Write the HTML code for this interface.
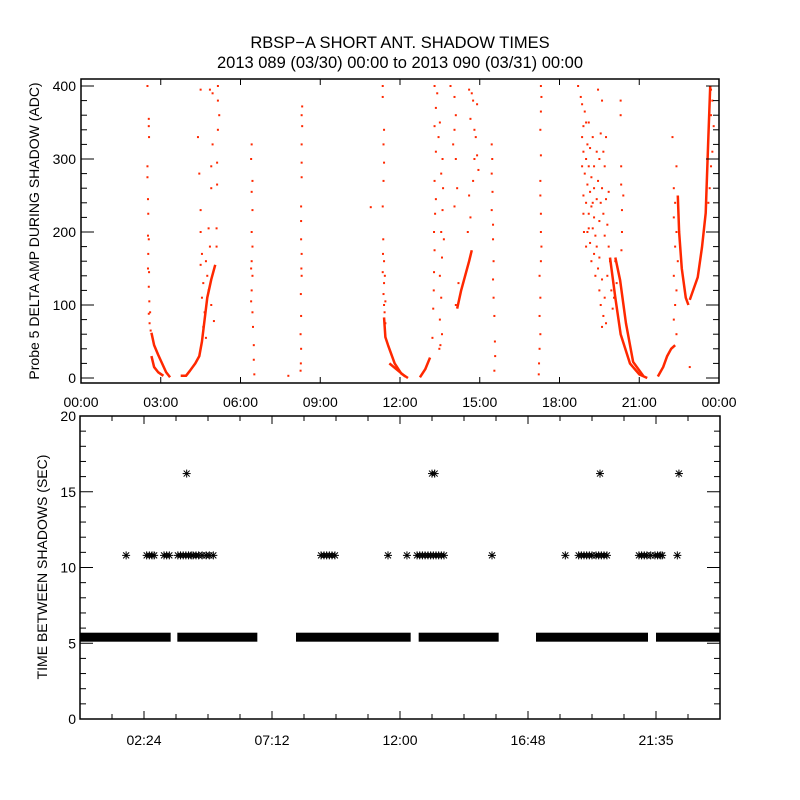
<!DOCTYPE html>
<html><head><meta charset="utf-8"><style>
html,body{margin:0;padding:0;background:#fff;}
svg{display:block;font-family:"Liberation Sans",sans-serif;}
</style></head><body>
<svg id="chart" width="800" height="800" viewBox="0 0 800 800">
<rect width="800" height="800" fill="#fff"/>
<text x="400" y="48" font-size="16.5" text-anchor="middle">RBSP−A SHORT ANT. SHADOW TIMES</text>
<text x="400" y="68" font-size="16.5" text-anchor="middle">2013 089 (03/30) 00:00 to 2013 090 (03/31) 00:00</text>
<g id="topPanel"></g>
<g id="botPanel"></g>
<text transform="translate(39,231) rotate(-90)" font-size="14" text-anchor="middle">Probe 5 DELTA AMP DURING SHADOW (ADC)</text>
<text transform="translate(47,567) rotate(-90)" font-size="14" text-anchor="middle">TIME BETWEEN SHADOWS (SEC)</text>
</svg>
<script>
// ---- top panel data ----
const topXTicks = [0,3,6,9,12,15,18,21,24];
const topXLabels = ["00:00","03:00","06:00","09:00","12:00","15:00","18:00","21:00","00:00"];
const topYTicks = [0,100,200,300,400];
const strands = [
 [[2.65,62],[2.75,45],[2.9,32],[3.05,20],[3.2,8],[3.35,1]],
 [[2.65,30],[2.75,15],[2.9,8],[3.1,3]],
 [[3.75,3],[3.95,3],[4.1,10],[4.3,20],[4.45,30],[4.55,50],[4.65,80],[4.75,110],[4.9,135],[5.05,155]],
 [[11.4,83],[11.45,56],[11.55,45],[11.8,20],[12.05,6],[12.3,0]],
 [[11.6,20],[12.0,8],[12.2,2]],
 [[12.75,1],[12.95,12],[13.13,28]],
 [[14.15,95],[14.3,120],[14.45,140],[14.6,160],[14.7,175]],
 [[19.9,165],[20.1,110],[20.3,60],[20.65,20],[21.0,5],[21.3,0]],
 [[20.1,165],[20.28,134],[20.5,75],[20.77,22],[21.15,3]],
 [[21.7,2],[21.9,15],[22.05,30],[22.2,40],[22.35,45]],
 [[22.45,250],[22.5,200],[22.6,150],[22.75,110],[22.85,100]],
 [[22.9,107],[23.2,138],[23.36,179],[23.5,226],[23.6,330],[23.67,400]]
];
const scatterPts = [
 [2.5,400],[2.55,355],[2.55,345],[2.56,330],[2.5,290],[2.5,275],[2.52,245],[2.53,225],[2.52,195],[2.55,190],[2.53,170],[2.52,150],[2.56,145],[2.55,125],[2.57,105],[2.55,88],[2.6,90],[2.58,75],[2.62,65],
 [4.4,330],[4.45,280],[4.5,230],[4.5,200],[4.55,170],[4.5,155],[4.6,130],[4.55,110],[4.65,90],[4.6,70],[4.7,160],[4.8,205],[4.85,180],[4.9,260],[4.9,290],[4.95,320],[4.85,395],[4.95,390],[4.5,395],[5.15,400],[5.15,380],[5.2,360],[5.15,340],[5.12,295],[5.12,265],[5.1,205],[5.1,180],[4.75,140],[4.8,120],[4.9,100],[5.0,78],[4.7,55],
 [6.42,320],[6.4,300],[6.45,270],[6.42,255],[6.45,230],[6.42,200],[6.45,180],[6.42,160],[6.4,150],[6.45,140],[6.42,120],[6.4,105],[6.45,90],[6.47,70],[6.5,45],[6.5,25],[6.52,5],[7.8,3],
 [8.32,372],[8.3,360],[8.32,345],[8.3,320],[8.3,295],[8.3,275],[8.28,235],[8.28,215],[8.28,190],[8.3,170],[8.29,150],[8.3,140],[8.27,115],[8.28,85],[8.26,60],[8.28,40],[8.27,20],[8.26,10],[10.9,234],
 [11.35,400],[11.35,385],[11.4,340],[11.38,320],[11.4,295],[11.38,270],[11.35,235],[11.37,190],[11.36,170],[11.4,160],[11.35,145],[11.4,130],[11.38,115],[11.4,100],[11.42,90],[11.45,75],[11.45,105],[11.43,140],
 [13.3,400],[13.35,370],[13.3,345],[13.35,310],[13.3,270],[13.35,245],[13.32,225],[13.28,200],[13.3,175],[13.28,145],[13.27,120],[13.25,95],[13.22,55],[13.6,300],[13.55,280],[13.62,260],[13.6,230],[13.55,200],[13.65,190],[13.58,165],[13.5,140],[13.55,110],[13.5,80],[13.58,60],[13.52,45],[13.48,40],[13.4,390],[13.5,350],[13.45,330],
 [13.9,400],[14.05,385],[14.1,360],[14.05,340],[14.0,320],[14.1,300],[14.15,260],[14.05,235],[14.2,130],[14.1,100],[14.6,395],[14.7,390],[14.75,380],[14.65,355],[14.8,340],[14.85,330],[14.8,300],[14.75,270],[14.6,250],[14.65,220],[14.55,200],[14.9,375],[14.9,305],[14.95,285],
 [15.45,320],[15.47,300],[15.45,280],[15.48,255],[15.45,230],[15.5,210],[15.5,190],[15.52,160],[15.5,135],[15.52,110],[15.55,85],[15.57,50],[15.58,30],[15.55,10],
 [17.3,400],[17.32,385],[17.3,365],[17.28,340],[17.3,305],[17.28,270],[17.28,250],[17.3,225],[17.3,200],[17.32,180],[17.3,160],[17.25,140],[17.28,110],[17.25,85],[17.28,60],[17.25,40],[17.23,20],[17.22,5],
 [18.7,400],[18.8,385],[18.85,375],[18.95,365],[18.9,345],[19.0,350],[18.85,330],[19.05,320],[18.9,310],[19.0,300],[19.1,290],[18.95,280],[19.2,275],[19.05,265],[19.15,255],[19.3,260],[18.9,250],[19.0,240],[19.2,235],[19.1,225],[19.3,220],[19.25,205],[19.05,200],[19.35,195],[19.15,185],[19.4,180],[19.3,170],[19.5,165],[19.2,160],[19.45,150],[19.35,140],[19.6,135],[19.5,120],[19.7,110],[19.55,100],[19.65,85],[19.75,75],[19.6,70],[19.45,395],[19.6,380],[19.55,335],[19.65,310],[19.5,300],[19.7,290],[19.6,260],[19.75,245],[19.65,225],[19.8,210],[19.7,195],[19.85,180],[19.9,160],[19.8,140],[19.95,120],[20.05,110],[20.1,160],[20.15,130],[20.0,95],[20.3,380],[20.3,360],[20.32,290],[20.32,265],[20.35,230],[20.35,200],[20.33,175],[18.85,290],[18.9,225],[18.92,200],[19.0,180],[19.1,350],[19.25,330],[19.15,315],[19.4,310],[19.3,290],[19.45,270],[19.4,245],[19.55,240],[19.5,215],[19.25,240],[19.1,205],[19.75,330],[19.85,255],[20.4,250],
 [22.3,260],[22.35,240],[22.3,220],[22.4,200],[22.35,180],[22.45,160],[22.3,140],[22.4,120],[22.35,100],[22.3,80],[22.4,60],[22.25,330],[22.9,15],[22.4,290],
 [23.7,395],[23.75,380],[23.7,360],[23.8,345],[23.75,310],[23.7,290],[23.65,260],[23.6,240]
];
// ---- bottom panel data ----
const botXTicks = [2.4,7.2,12,16.8,21.6];
const botXLabels = ["02:24","07:12","12:00","16:48","21:35"];
const botYTicks = [0,5,10,15,20];
const baseSegments = [[0,3.4],[3.65,6.65],[8.1,12.4],[12.7,15.7],[17.1,21.3],[21.6,24]];
const baseValue = 5.4;
const stars108 = [1.73,2.5,2.6,2.7,2.78,3.15,3.25,3.35,3.67,3.77,3.87,3.97,4.07,4.17,4.24,4.35,4.45,4.58,4.73,4.85,5.0,9.04,9.15,9.25,9.35,9.45,9.56,11.55,12.26,12.64,12.74,12.84,12.94,13.05,13.15,13.25,13.35,13.45,13.55,13.65,15.45,18.2,18.7,18.8,18.9,19.0,19.1,19.2,19.35,19.45,19.55,19.65,19.76,20.96,21.06,21.16,21.26,21.4,21.56,21.66,21.76,21.83,22.4];
const stars162 = [4.0,13.2,13.3,19.5,22.46];

const NS="http://www.w3.org/2000/svg";
function mk(parent,tag,attrs){const e=document.createElementNS(NS,tag);for(const k in attrs)e.setAttribute(k,attrs[k]);parent.appendChild(e);return e;}
const L=81,R=719;
const tx=h=>L+h*(R-L)/24;
const ty=v=>378-v*0.73;
const bx=h=>80+h*640/24;
const by=v=>719-v*15.15;
const RED="#ff2800";

const topG=document.getElementById('topPanel');
strands.forEach(s=>{
 const p=mk(topG,'polyline',{points:s.map(d=>tx(d[0])+','+ty(d[1])).join(' '),fill:'none',stroke:RED,'stroke-width':2.5,'stroke-linejoin':'round'});
 
 
});
scatterPts.forEach(d=>{
 const r=mk(topG,'rect',{x:tx(d[0])-1,y:ty(d[1])-1,width:2,height:2,fill:RED});
 
 
});
const tf=mk(topG,'rect',{x:L,y:79,width:R-L,height:304,fill:'none',stroke:'#000','stroke-width':1.5});


topXTicks.forEach((h,i)=>{
 mk(topG,'line',{x1:tx(h),x2:tx(h),y1:383,y2:377,stroke:'#000'});
 mk(topG,'line',{x1:tx(h),x2:tx(h),y1:79,y2:85,stroke:'#000'});
 const t=mk(topG,'text',{x:tx(h),y:407,'font-size':14,'text-anchor':'middle'});
 t.textContent=topXLabels[i];
 
 
});
for(let v=0;v<=400;v+=20){
 const len=(v%100===0)?13:6;
 mk(topG,'line',{x1:L,x2:L+len,y1:ty(v),y2:ty(v),stroke:'#000'});
 mk(topG,'line',{x1:R,x2:R-len,y1:ty(v),y2:ty(v),stroke:'#000'});
}
topYTicks.forEach(v=>{
 const t=mk(topG,'text',{x:76,y:ty(v)+5,'font-size':14,'text-anchor':'end'});
 t.textContent=v;
 
 
});

const botG=document.getElementById('botPanel');
baseSegments.forEach(s=>{
 const r=mk(botG,'rect',{x:bx(s[0]),y:by(baseValue)-4.5,width:bx(s[1])-bx(s[0]),height:9,fill:'#000'});
 
 
});
function star(h,v){
 const x=bx(h),y=by(v),g=mk(botG,'g',{stroke:'#000','stroke-width':1});
 
 
 mk(g,'line',{x1:x-4,x2:x+4,y1:y,y2:y});
 mk(g,'line',{x1:x,x2:x,y1:y-4,y2:y+4});
 mk(g,'line',{x1:x-3,x2:x+3,y1:y-3,y2:y+3});
 mk(g,'line',{x1:x-3,x2:x+3,y1:y+3,y2:y-3});
}
stars108.forEach(h=>star(h,10.8));
stars162.forEach(h=>star(h,16.2));
const bf=mk(botG,'rect',{x:80,y:416,width:640,height:303,fill:'none',stroke:'#000','stroke-width':1.5});


for(let k=1;k<20;k++){
 const h=k*1.2;
 const major=(k%4===2);
 const len=major?8:5;
 mk(botG,'line',{x1:bx(h),x2:bx(h),y1:719,y2:719-len,stroke:'#000'});
 mk(botG,'line',{x1:bx(h),x2:bx(h),y1:416,y2:416+len,stroke:'#000'});
}
botXTicks.forEach((h,i)=>{
 const t=mk(botG,'text',{x:bx(h),y:745,'font-size':14,'text-anchor':'middle'});
 t.textContent=botXLabels[i];
 
 
});
for(let v=0;v<=20;v++){
 const len=(v%5===0)?13:6;
 mk(botG,'line',{x1:80,x2:80+len,y1:by(v),y2:by(v),stroke:'#000'});
 mk(botG,'line',{x1:720,x2:720-len,y1:by(v),y2:by(v),stroke:'#000'});
}
botYTicks.forEach(v=>{
 const t=mk(botG,'text',{x:76,y:by(v)+5,'font-size':14,'text-anchor':'end'});
 t.textContent=v;
 
 
});
</script>
</body></html>
